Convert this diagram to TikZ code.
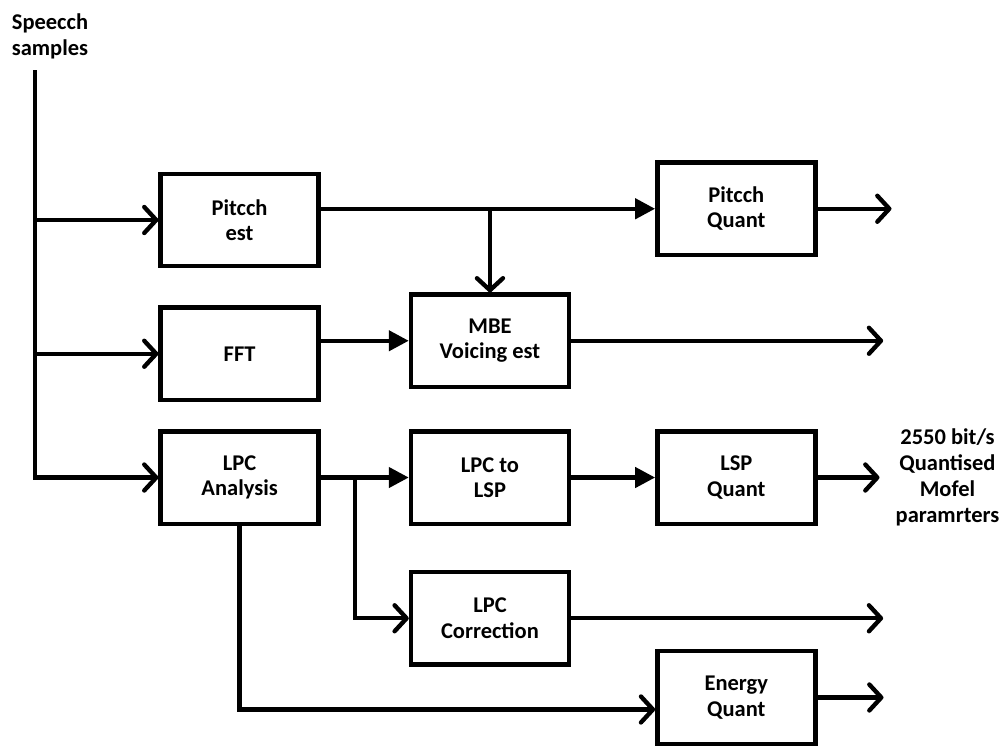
\documentclass[tikz,border=0pt]{standalone}
\usepackage{fontspec}
\setmainfont{Carlito}
\usepackage{tikz}
\usetikzlibrary{arrows.meta, positioning}

\begin{document}
\begin{tikzpicture}[
    line width=3.1pt,
    blk/.style={rectangle, draw=black, minimum width=3.95cm, minimum height=2.31cm,
        align=center, font=\fontsize{16}{18}\selectfont\bfseries, inner sep=2pt},
    lbl/.style={align=center, font=\fontsize{16}{18.5}\selectfont\bfseries, inner sep=0pt},
    barb/.style={-{Straight Barb[length=3mm, width=6.5mm, round]}},
    tri/.style={-{Triangle[length=5mm, width=5mm]}}
]
    \useasboundingbox (0,0) rectangle (25.05,-18.675);

    % input
    \node[lbl, align=left] (src) at (1.25,-0.9) {Speecch\\samples};
    \coordinate (top) at (0.875,-1.75);

    % left column
    \node[blk] (pitch) at (5.99,-5.5) {Pitcch\\est};
    \node[blk, below=0.925cm of pitch] (fft) {FFT};
    \node[blk, below=0.675cm of fft] (lpc) {LPC\\Analysis};

    % middle column
    \node[blk, right=2.2cm of lpc] (lsp) {LPC to\\LSP};
    \node[blk, above=1cm of lsp] (mbe) {MBE\\Voicing est};
    \node[blk, below=1.1cm of lsp] (corr) {LPC\\Correction};

    % right column
    \node[blk, right=2.1cm of lsp] (lspq) {LSP\\Quant};
    \node[blk, above=4.3cm of lspq] (pq) {Pitcch\\Quant};
    \node[blk, below=3.08cm of lspq] (eq) {Energy\\Quant};

    % output label
    \node[lbl, right=1.9cm of lspq] (out) {2550 bit/s\\Quantised\\Mofel\\paramrters};

    % free ends
    \coordinate[right=1.85cm of pq.east] (pqout);
    \coordinate[right=7.8cm of mbe.east] (mbeout);
    \coordinate[right=1.55cm of lspq.east] (lspqout);
    \coordinate[right=7.8cm of corr.east] (corrout);
    \coordinate[right=1.65cm of eq.east] (eqout);
    \coordinate[right=0.85cm of lpc.east] (split);

    % speech samples bus
    \draw[barb] (top) |- (lpc.west);
    \foreach \n in {pitch, fft}
        \draw[barb] (top |- \n.west) -- (\n.west);

    % pitch path
    \draw[tri] (pitch.east |- pq.west) -- (pq.west);
    \draw[barb] (mbe.north |- pq.west) -- (mbe.north);
    \draw[tri] (fft.east |- mbe.west) -- (mbe.west);

    % lpc path
    \draw[tri] (lpc.east) -- (lsp.west);
    \draw[tri] (lsp) -- (lspq);
    \draw[barb] (split) |- (corr.west);
    \draw[barb] (lpc.south) |- ([yshift=-0.3cm]eq.west);

    % outputs
    \foreach \a/\b in {pq/pqout, mbe/mbeout, lspq/lspqout, corr/corrout, eq/eqout}
        \draw[barb] (\a.east) -- (\b);
\end{tikzpicture}
\end{document}
